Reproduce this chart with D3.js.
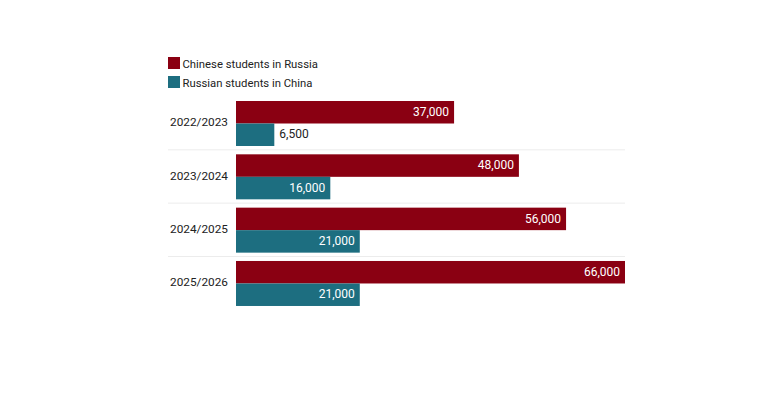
<!DOCTYPE html>
<html>
<head>
<meta charset="utf-8">
<script src="https://cdn.jsdelivr.net/npm/d3@7"></script>
<style>
  body { margin: 0; background: #fff; }
  text { font-family: Roboto, "Noto Sans", sans-serif; }
</style>
</head>
<body>
<div id="chart"></div>
<script>
// data
var years = ["2022/2023", "2023/2024", "2024/2025", "2025/2026"];
var chineseInRussia = [37000, 48000, 56000, 66000];
var russiansInChina = [6500, 16000, 21000, 21000];
var seriesNames = ["Chinese students in Russia", "Russian students in China"];
var seriesColors = ["#8a0012", "#1d6e80"];

var width = 780, height = 400;

var svg = d3.select("#chart").append("svg")
    .attr("width", width)
    .attr("height", height);

var x = d3.scaleLinear().domain([0, 66000]).range([236, 625]);
var y = d3.scaleBand().domain(years).range([96, 309.3]);
var inner = d3.scaleBand().domain([0, 1]).range([5, 50]);

var fmt = d3.format(",");

// legend
var legend = svg.append("g").attr("transform", "translate(168,57)");
seriesNames.forEach(function(name, i) {
    var row = legend.append("g").attr("transform", "translate(0," + (i * 19) + ")");
    row.append("rect").attr("width", 12).attr("height", 12).attr("fill", seriesColors[i]);
    row.append("text").attr("x", 14.5).attr("y", 10.5)
        .style("font-size", "11.3px").attr("fill", "#222").text(name);
});

// separators between groups
svg.append("g").selectAll("line")
    .data(years.slice(1))
    .join("line")
    .attr("x1", 168).attr("x2", 625)
    .attr("y1", function(d) { return y(d) + 0.5; })
    .attr("y2", function(d) { return y(d) + 0.5; })
    .attr("stroke", "#ececec");

var groups = svg.append("g").selectAll("g")
    .data(years.map(function(yr, i) {
        return { year: yr, values: [chineseInRussia[i], russiansInChina[i]] };
    }))
    .join("g")
    .attr("transform", function(d) { return "translate(0," + y(d.year) + ")"; });

groups.append("text")
    .attr("x", 228)
    .attr("y", y.bandwidth() / 2 + 0.5)
    .attr("text-anchor", "end")
    .attr("dominant-baseline", "middle")
    .style("font-size", "11.8px")
    .attr("fill", "#222")
    .text(function(d) { return d.year; });

groups.selectAll("rect")
    .data(function(d) { return d.values; })
    .join("rect")
    .attr("x", x(0))
    .attr("y", function(d, i) { return inner(i); })
    .attr("width", function(d) { return x(d) - x(0); })
    .attr("height", inner.bandwidth())
    .attr("fill", function(d, i) { return seriesColors[i]; });

groups.selectAll("text.val")
    .data(function(d) { return d.values; })
    .join("text")
    .attr("class", "val")
    .attr("y", function(d, i) { return inner(i) + inner.bandwidth() / 2 + 0.5; })
    .attr("dominant-baseline", "middle")
    .style("font-size", "12px")
    .each(function(d) {
        var inside = x(d) - x(0) > 60;
        d3.select(this)
            .attr("x", inside ? x(d) - 5 : x(d) + 5)
            .attr("text-anchor", inside ? "end" : "start")
            .attr("fill", inside ? "#fff" : "#222");
    })
    .text(function(d) { return fmt(d); });
</script>
</body>
</html>
